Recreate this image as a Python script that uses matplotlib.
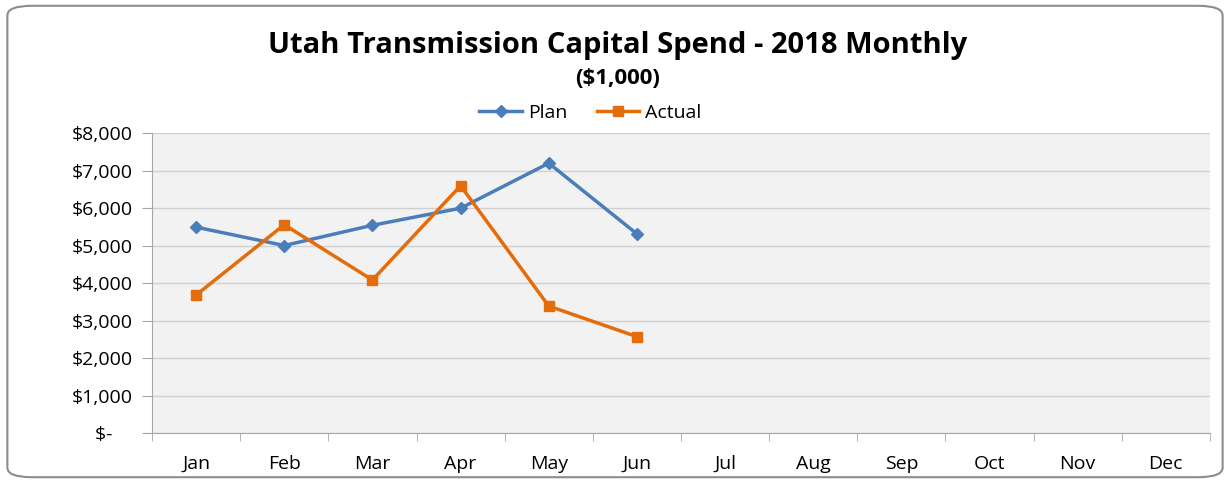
import matplotlib.pyplot as plt
from matplotlib.patches import FancyBboxPatch
import numpy as np

months = ['Jan', 'Feb', 'Mar', 'Apr', 'May', 'Jun', 'Jul', 'Aug', 'Sep', 'Oct', 'Nov', 'Dec']
plan = [5490, 5000, 5540, 5995, 7195, 5310]
actual = [3680, 5555, 4080, 6595, 3385, 2570]
yticks = [0, 1000, 2000, 3000, 4000, 5000, 6000, 7000, 8000]
ylabels = ['$-    ', '$1,000', '$2,000', '$3,000', '$4,000', '$5,000', '$6,000', '$7,000', '$8,000']

plt.rcParams['font.family'] = ['Open Sans', 'DejaVu Sans']

fig = plt.figure(figsize=(12.3, 4.83), dpi=100)

# rounded outer border
border = FancyBboxPatch((0.006, 0.012), 0.988, 0.976, boxstyle='round,pad=0,rounding_size=0.02',
                        transform=fig.transFigure, facecolor='none', edgecolor='#8c8c8c',
                        linewidth=1.5, zorder=-1)
fig.patches.append(border)

ax = fig.add_axes([0.1236, 0.1035, 0.8601, 0.6211])
ax.set_facecolor('#f2f2f2')

x = np.arange(len(months))
ax.plot(x[:len(plan)], plan, color='#4a7ebb', marker='D', markersize=6.5, linewidth=2.5, label='Plan')
ax.plot(x[:len(actual)], actual, color='#e46c0a', marker='s', markersize=6.5, linewidth=2.5, label='Actual')

ax.set_xlim(-0.5, 11.5)
ax.set_ylim(0, 8000)
ax.set_yticks(yticks)
ax.set_yticklabels(ylabels, fontsize=14)
ax.set_xticks(x)
ax.set_xticklabels(months, fontsize=14)
ax.tick_params(axis='x', length=0, pad=16)
ax.set_xticks(np.arange(-0.5, 12, 1), minor=True)
ax.tick_params(axis='x', which='minor', length=6, color='#a6a6a6')
ax.tick_params(axis='y', length=7, color='#a6a6a6', pad=7)
ax.grid(axis='y', color='#d0d0d0', linewidth=1)
ax.set_axisbelow(True)

for side in ['top', 'right']:
    ax.spines[side].set_visible(False)
for side in ['left', 'bottom']:
    ax.spines[side].set_color('#a6a6a6')

fig.text(0.502, 0.905, 'Utah Transmission Capital Spend - 2018 Monthly', ha='center', va='center',
         fontsize=21, fontweight='bold')
fig.text(0.502, 0.838, '($1,000)', ha='center', va='center', fontsize=16, fontweight='bold')
ax.legend(loc='center', bbox_to_anchor=(0.48, 0.766), bbox_transform=fig.transFigure, ncol=2,
          frameon=False, fontsize=14, handlelength=2.2, columnspacing=1.5, handletextpad=0.3)

fig.savefig('out.png', dpi=100)
